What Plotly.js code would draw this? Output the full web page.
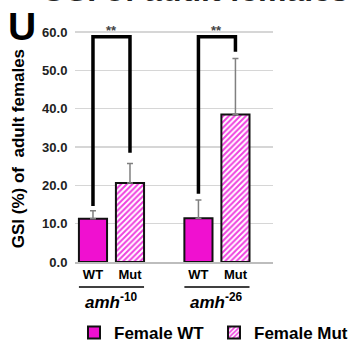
<!DOCTYPE html>
<html><head><meta charset="utf-8">
<script src="https://cdn.plot.ly/plotly-3.0.1.min.js"></script>
<style>html,body{margin:0;padding:0;background:#fff}#c{width:349px;height:343px}</style>
</head><body><div id="c"></div>
<script>
// ---- data ----
var groups = ['amh', 'amh'];
var groupSup = ['-10', '-26'];
var genotypes = ['WT', 'Mut'];
var wtMean = [11.3, 11.4];
var wtErr = [2.1, 4.8];
var mutMean = [20.6, 38.5];
var mutErr = [5.1, 14.6];
var sigLabel = ['**', '**'];
var sigTop = [58.8, 58.8];
var sigLeftEnd = [14.6, 17.8];
var sigRightEnd = [28.5, 54.9];
var legendNames = ['Female WT', 'Female Mut'];
var yTicks = [0, 10, 20, 30, 40, 50, 60];

// ---- layout helpers ----
var W = 349, H = 343;
var groupGap = 2.85, barW = 0.76;
var xr = [-0.486, 4.865];
var yr = [0, 62.9];
var plotL = 75, plotR = 273, plotT = 21, plotB = 262;
var F = 'Liberation Sans, Arial, sans-serif';
var WT_COL = '#f010d0';
function xpos(g, k) { return g * groupGap + k; }
function px2x(p) { return p / W; }
function py2y(p) { return 1 - p / H; }
function dataX2px(x) { return plotL + (x - xr[0]) / (xr[1] - xr[0]) * (plotR - plotL); }

var wtX = groups.map(function(_, g){ return xpos(g, 0); });
var mutX = groups.map(function(_, g){ return xpos(g, 1); });

var traces = [
  {type:'bar', name: legendNames[0], x: wtX, y: wtMean, width: barW,
   marker:{color: WT_COL, line:{color:'#111', width:2}},
   error_y:{type:'data', array: wtErr, arrayminus: wtErr.map(function(){return 0;}), symmetric:false, color:'#808080', thickness:1.5, width:3}},
  {type:'bar', name: legendNames[1], x: mutX, y: mutMean, width: barW,
   marker:{color:'#ffffff', line:{color:'#111', width:2},
     pattern:{shape:'/', fgcolor:'#f040e0', bgcolor:'#ffffff', size:4, solidity:0.5}},
   error_y:{type:'data', array: mutErr, arrayminus: mutErr.map(function(){return 0;}), symmetric:false, color:'#808080', thickness:1.5, width:3}}
];

var tickvals = [], ticktext = [];
groups.forEach(function(_, g){ genotypes.forEach(function(gt, k){ tickvals.push(xpos(g,k)); ticktext.push(gt); }); });

var shapes = [], annotations = [];
groups.forEach(function(name, g){
  var xl = wtX[g], xrr = mutX[g];
  shapes.push({type:'path', xref:'x', yref:'y',
    path:'M'+xl+','+sigLeftEnd[g]+' L'+xl+','+sigTop[g]+' L'+xrr+','+sigTop[g]+' L'+xrr+','+sigRightEnd[g],
    line:{color:'#000', width:3.5}});
  annotations.push({xref:'x', yref:'y', x:(xl+xrr)/2, y:sigTop[g], xanchor:'center', yanchor:'bottom', yshift:-3,
    text: sigLabel[g], showarrow:false, font:{family:F, size:13, color:'#444', weight:'bold'}});
  // underline
  shapes.push({type:'line', xref:'paper', yref:'paper',
    x0: px2x(dataX2px(xl - barW/2)), x1: px2x(dataX2px(xrr + barW/2)),
    y0: py2y(287), y1: py2y(287), line:{color:'#000', width:1.5}});
  annotations.push({xref:'paper', yref:'paper', x: px2x(dataX2px((xl+xrr)/2)), y: py2y(301), xanchor:'center', yanchor:'middle',
    text:'<i>'+name+'</i><sup>'+groupSup[g]+'</sup>', showarrow:false,
    font:{family:F, size:17, color:'#000', weight:'bold'}});
});
annotations.push({xref:'paper', yref:'paper', x: px2x(21.5), y: py2y(26), xanchor:'center', yanchor:'middle',
  text:'U', showarrow:false, font:{family:F, size:39, color:'#000', weight:'bold'}});
annotations.push({xref:'paper', yref:'paper', x: px2x(195), y: py2y(9.5), xanchor:'center', yanchor:'bottom',
  text:'GSI of adult females', showarrow:false, font:{family:F, size:32, color:'#222', weight:'bold'}});

var layout = {
  width:W, height:H, margin:{l:0, r:0, t:0, b:0, autoexpand:false},
  paper_bgcolor:'#fff', plot_bgcolor:'#fff',
  showlegend:true,
  legend:{orientation:'h', xref:'container', yref:'container', x: px2x(74), y: py2y(315), xanchor:'left', yanchor:'top', entrywidth:95,
    font:{family:F, size:17, color:'#000', weight:'bold'}},
  xaxis:{domain:[plotL/W, plotR/W], range: xr, tickvals: tickvals, ticktext: ticktext, showgrid:false, zeroline:false,
    showline:true, linecolor:'#bdbdbd', linewidth:1.5, ticks:'', automargin:false,
    tickfont:{family:F, size:13, color:'#000', weight:'bold'}},
  yaxis:{domain:[1 - plotB/H, 1 - plotT/H], range: yr, tickvals: yTicks, tickformat:'.1f', showgrid:true, gridcolor:'#d6d6d6', gridwidth:1.5,
    zeroline:false, showline:false, ticks:'outside', ticklen:4, tickcolor:'rgba(0,0,0,0)', automargin:false,
    tickfont:{family:F, size:13, color:'#222', weight:'bold'},
    title:{text:'GSI (%) of&nbsp; adult females&nbsp;&nbsp;&nbsp;', standoff:13, font:{family:F, size:17, color:'#000', weight:'bold'}}},
  shapes: shapes, annotations: annotations, bargap:0
};
Plotly.newPlot('c', traces, layout, {displayModeBar:false, staticPlot:true});
</script></body></html>
